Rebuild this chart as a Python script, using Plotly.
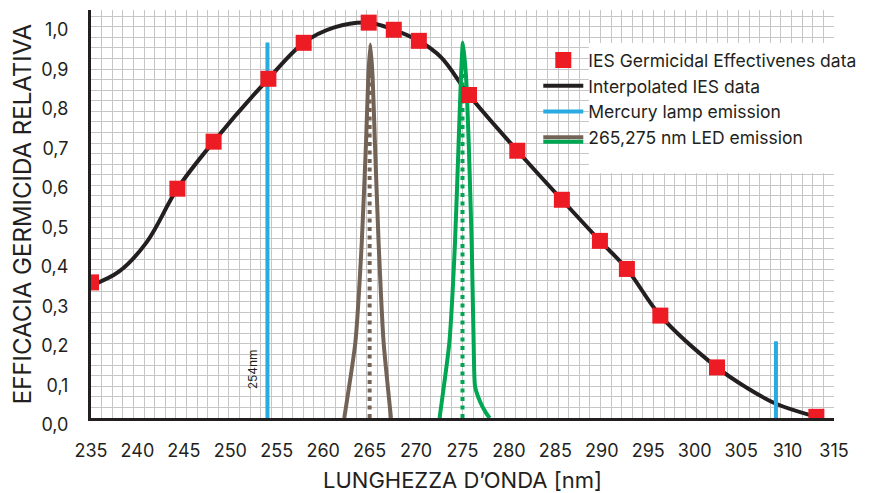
import plotly.graph_objects as go

# ---------------- data ----------------
# IES germicidal effectiveness data points
ies_nm = [235.0, 244.3, 248.2, 254.1, 257.9, 264.9, 267.6, 270.3, 275.7,
          280.9, 285.7, 289.8, 292.7, 296.3, 302.4, 313.1]
ies_eff = [0.343, 0.580, 0.699, 0.858, 0.949, 1.000, 0.982, 0.954, 0.817,
           0.676, 0.552, 0.448, 0.377, 0.259, 0.128, 0.003]

# interpolated IES curve
curve_nm = [235.0, 238.0, 241.0, 244.3, 248.2, 254.1, 257.9, 261.2, 264.9,
            267.6, 270.3, 272.7, 275.7, 280.9, 285.7, 289.8, 292.7, 296.3,
            302.4, 305.5, 308.75, 313.1]
curve_eff = [0.335, 0.370, 0.445, 0.580, 0.699, 0.858, 0.949, 0.988, 1.000,
             0.982, 0.954, 0.912, 0.817, 0.676, 0.552, 0.448, 0.377, 0.259,
             0.128, 0.078, 0.036, 0.003]

# mercury lamp emission lines
hg_nm = [254.0, 308.75]
hg_val = [0.95, 0.194]

# 265 nm LED emission
led265_nm = [262.27, 263.46, 264.15, 264.61, 264.86, 265.07, 265.32, 265.57,
             265.97, 266.51, 267.3]
led265_val = [0.0, 0.19, 0.442, 0.695, 0.864, 0.945, 0.864, 0.695, 0.442,
              0.19, 0.0]

# 275 nm LED emission
led275_nm = [272.53, 273.58, 274.19, 274.58, 274.84, 275.04, 275.38, 275.67,
             275.99, 276.2, 276.35, 276.92, 277.53, 277.93]
led275_val = [0.0, 0.19, 0.442, 0.695, 0.864, 0.949, 0.864, 0.695, 0.442,
              0.19, 0.08, 0.04, 0.013, 0.0]

# LED peak markers (dotted)
peak_nm = [265.0, 275.0]
peak_val = [0.9, 0.9]

x_ticks = list(range(235, 316, 5))
y_ticks = [i / 10 for i in range(11)]

# ---------------- styling ----------------
FONT = "Inter"
TXT = "#231f20"
RED = "#ed1c24"
BLACK = "#231f20"
BLUE = "#29abe2"
BROWN = "#736357"
GREEN = "#00a651"
GRID = "#c6c6c6"

fig = go.Figure()

fig.add_trace(go.Scatter(
    x=curve_nm, y=curve_eff, mode="lines", name="Interpolated IES data",
    line=dict(color=BLACK, width=4, shape="spline", smoothing=1.0),
    legendrank=2))

hx, hy = [], []
for n, v in zip(hg_nm, hg_val):
    hx += [n, n, None]
    hy += [0, v, None]
fig.add_trace(go.Scatter(
    x=hx, y=hy, mode="lines", name="Mercury lamp emission",
    line=dict(color=BLUE, width=4), legendrank=3))

fig.add_trace(go.Scatter(
    x=led265_nm, y=led265_val, mode="lines", name="265,275 nm LED emission",
    line=dict(color=BROWN, width=4, shape="spline", smoothing=0.5),
    legendrank=4))

fig.add_trace(go.Scatter(
    x=led275_nm, y=led275_val, mode="lines", name=" ",
    line=dict(color=GREEN, width=4, shape="spline", smoothing=0.5),
    legend="legend2"))

fig.add_trace(go.Scatter(
    x=[peak_nm[0], peak_nm[0]], y=[0, peak_val[0]], mode="lines",
    line=dict(color=BROWN, width=4, dash="4px,4.5px"), showlegend=False))
fig.add_trace(go.Scatter(
    x=[peak_nm[1], peak_nm[1]], y=[0, peak_val[1]], mode="lines",
    line=dict(color=GREEN, width=4, dash="4px,4.5px"), showlegend=False))

fig.add_trace(go.Scatter(
    x=ies_nm, y=ies_eff, mode="markers",
    name="IES Germicidal Effectivenes data",
    marker=dict(symbol="square", size=16, color=RED, line=dict(width=0)),
    legendrank=1))

fig.add_annotation(
    x=252.4, y=0.122, xref="x", yref="y", text="254nm", textangle=-90,
    showarrow=False, font=dict(family=FONT, size=12, color=TXT))

# white box behind legend texts
fig.add_shape(type="rect", xref="paper", yref="paper",
              x0=0.670, x1=1.06, y0=0.60, y1=0.919,
              fillcolor="white", line=dict(width=0), layer="above")

fig.update_layout(
    width=867, height=485,
    margin=dict(l=83, r=41, t=2, b=75),
    paper_bgcolor="white", plot_bgcolor="white",
    separators=",.",
    font=dict(family=FONT, size=17, color=TXT),
    showlegend=True,
    legend=dict(x=0.602, y=0.921, xanchor="left", yanchor="top",
                bgcolor="rgba(0,0,0,0)", font=dict(family=FONT, size=17.5, color=TXT),
                itemwidth=40, traceorder="normal"),
    legend2=dict(x=0.602, y=0.7206, xanchor="left", yanchor="top",
                 bgcolor="rgba(0,0,0,0)", font=dict(family=FONT, size=17.5, color=TXT),
                 itemwidth=40),
    xaxis=dict(
        range=[235, 315], tickvals=x_ticks, showgrid=False, zeroline=False,
        showline=True, linecolor=BLACK, linewidth=3, ticks="", automargin=False,
        tickfont=dict(family=FONT, size=18, color=TXT), ticklabelstandoff=14,
        minor=dict(tick0=235.0005, dtick=80 / 70, showgrid=True,
                   gridcolor=GRID, gridwidth=1.2, ticks=""),
        title=dict(text="LUNGHEZZA D’ONDA [nm]", standoff=18,
                   font=dict(family=FONT, size=22, color=TXT)),
    ),
    yaxis=dict(
        range=[0, 1.032], tickvals=y_ticks, tickformat=".1f", showgrid=False,
        zeroline=False, showline=True, linecolor=BLACK, linewidth=3, ticks="",
        automargin=False,
        tickfont=dict(family=FONT, size=18, color=TXT), ticklabelstandoff=16,
        ticklabelshift=7,
        minor=dict(tick0=0.0001, dtick=0.026744, showgrid=True,
                   gridcolor=GRID, gridwidth=1.2, ticks=""),
        title=dict(text="EFFICACIA GERMICIDA RELATIVA", standoff=8,
                   font=dict(family=FONT, size=24, color=TXT)),
    ),
)

fig.write_html("out.html")
